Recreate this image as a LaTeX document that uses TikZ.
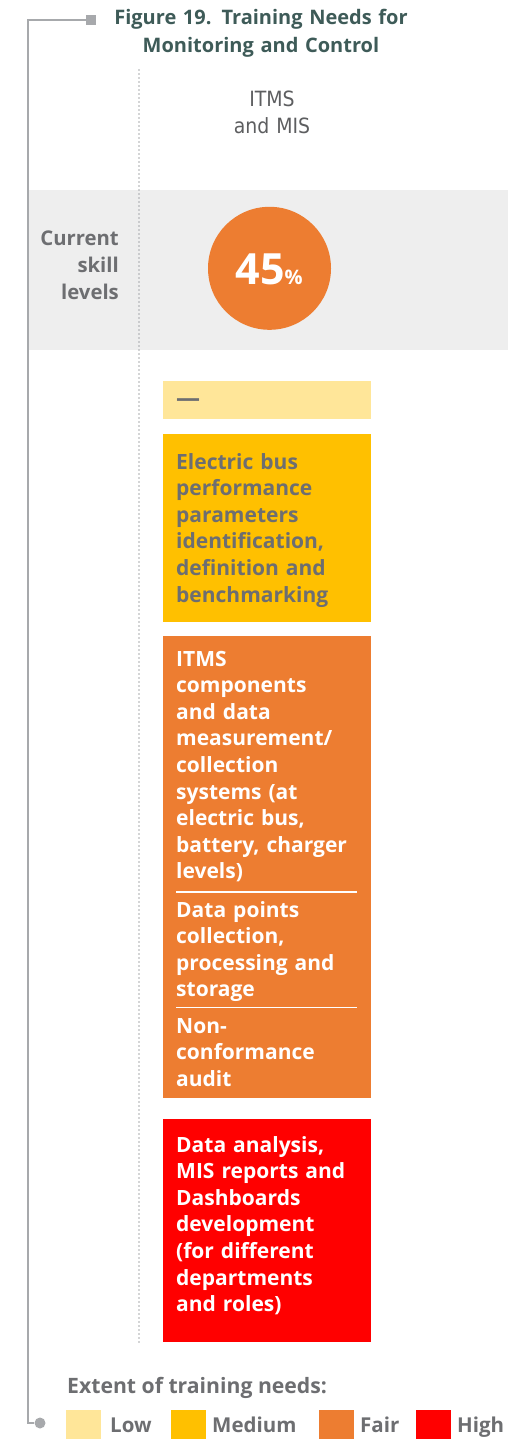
\documentclass[tikz,border=0pt]{standalone}
\usepackage{fontspec}
\setmainfont{Open Sans}
\newfontfamily\condfont{DejaVu Sans Condensed}
\definecolor{titlec}{HTML}{3E5B58}
\definecolor{txtgray}{HTML}{6D6E71}
\definecolor{linegray}{HTML}{A7A9AC}
\definecolor{bandgray}{HTML}{EEEEEE}
\definecolor{lowc}{HTML}{FFE699}
\definecolor{medc}{HTML}{FFC000}
\definecolor{fairc}{HTML}{ED7D31}
\definecolor{highc}{HTML}{FF0000}
\tikzset{
  box/.style={draw=none, inner sep=0, anchor=north west},
  btxt/.style={anchor=base west, inner sep=0, text width=190pt, align=left,
     font=\bfseries\fontsize{21}{26.6}\selectfont},
  legtxt/.style={anchor=base west, inner sep=0, text=txtgray, font=\bfseries\fontsize{20.5}{24}\selectfont},
  swatch/.style={minimum width=35pt, minimum height=29pt, inner sep=0, anchor=north west},
}
\begin{document}
\begin{tikzpicture}[x=1pt,y=-1pt]
\useasboundingbox (0,0) rectangle (508,1439);
% gray band
\fill[bandgray] (29,190) rectangle (508,350);
% left connector
\node[fill=linegray, minimum size=10pt, inner sep=0] (sq) at (91,20) {};
\node[circle, fill=linegray, minimum size=11pt, inner sep=0] (dot) at (40,1423) {};
\draw[linegray, line width=2pt] (sq.west) -- (28,20) |- (dot.west);
% title
\node[anchor=base, inner sep=0, text=titlec, align=center,
  font=\bfseries\fontsize{20}{27.5}\selectfont, text width=320pt] (title) at (261,25)
  {Figure 19. Training Needs for\\Monitoring and Control};
% dotted line
\coordinate (dtop) at (139,70);
\coordinate (dbot) at (139,1342);
\draw[linegray, line width=1.6pt, dash pattern=on 0pt off 4pt, line cap=round] (dtop) -- (dbot);
% column header
\node[anchor=base, inner sep=0, align=center, text=txtgray!85!black, text width=150pt,
  font=\condfont\fontsize{21}{27}\selectfont] (hdr) at (272,107) {ITMS\\and MIS};
% current skill levels
\node[anchor=base east, inner sep=0, align=right, text=txtgray, text width=110pt,
  font=\bfseries\fontsize{20.3}{26.6}\selectfont] (csl) at (119,246) {Current\\skill\\levels};
\node[circle, fill=fairc, minimum size=123pt, inner sep=0] (circ) at (269.5,268.3) {};
\node[anchor=base, inner sep=0, text=white] (pct) at (269,284)
  {\bfseries\fontsize{43}{43}\selectfont 45\fontsize{20}{20}\selectfont\%};
% boxes
\node[box, fill=lowc, minimum width=208pt, minimum height=38pt] (b1) at (163,381) {};
\node[anchor=base west, inner sep=0, text=txtgray, font=\bfseries\fontsize{24}{26}\selectfont] (dash1) at (176,406) {\textemdash};
\node[box, fill=medc, minimum width=208pt, minimum height=188pt] (b2) at (163,434) {};
\node[btxt, text=txtgray] (t2) at (176,469)
  {Electric bus\\performance\\parameters\\identification,\\definition and\\benchmarking};
\node[box, fill=fairc, minimum width=208pt, minimum height=462pt] (b3) at (163,636) {};
\node[btxt, text=white] (t3a) at (176,666)
  {ITMS\\components\\and data\\measurement/\\collection\\systems (at\\electric bus,\\battery, charger\\levels)};
\draw[white, line width=1.2pt] (176,892) -- (357,892);
\node[btxt, text=white] (t3b) at (176,917)
  {Data points\\collection,\\processing and\\storage};
\draw[white, line width=1.2pt] (176,1007.5) -- (357,1007.5);
\node[btxt, text=white] (t3c) at (176,1033)
  {Non-\\conformance\\audit};
\node[box, fill=highc, minimum width=208pt, minimum height=223pt] (b4) at (163,1119) {};
\node[btxt, text=white] (t4) at (176,1152)
  {Data analysis,\\MIS reports and\\Dashboards\\development\\(for different\\departments\\and roles)};
% legend
\node[legtxt, font=\bfseries\fontsize{21.2}{24}\selectfont] (legt) at (67,1393) {Extent of training needs:};
\node[swatch, fill=lowc] (sw1) at (66,1410) {};
\node[legtxt] (l1) at (110,1432) {Low};
\node[swatch, fill=medc] (sw2) at (171,1410) {};
\node[legtxt] (l2) at (212,1432) {Medium};
\node[swatch, fill=fairc] (sw3) at (319,1410) {};
\node[legtxt] (l3) at (360,1432) {Fair};
\node[swatch, fill=highc] (sw4) at (416,1410) {};
\node[legtxt] (l4) at (457,1432) {High};
\end{tikzpicture}
\end{document}
